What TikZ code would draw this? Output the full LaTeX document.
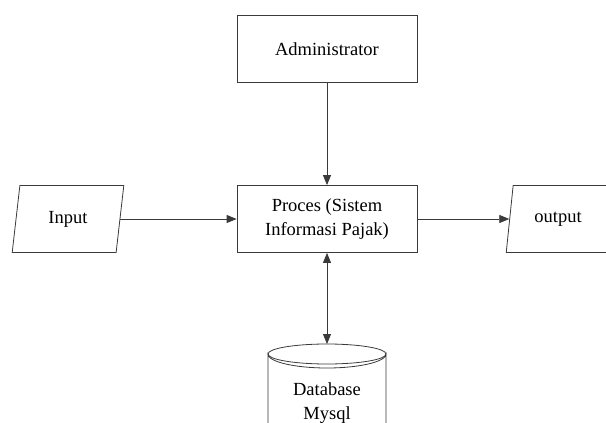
\documentclass[tikz,border=0pt]{standalone}
\usepackage{fontspec}
\setmainfont{Liberation Serif}
\usetikzlibrary{arrows.meta,shapes.geometric}
\definecolor{linec}{HTML}{3A3A3A}
\tikzset{
  box/.style={draw=linec, line width=0.8pt, minimum width=180pt, minimum height=67pt, align=center, inner sep=0pt},
  para/.style={draw=linec, line width=0.8pt, trapezium, trapezium left angle=79, trapezium right angle=101,
     trapezium stretches=true, minimum width=112pt, minimum height=67pt, inner sep=0pt},
  conn/.style={draw=linec, line width=0.8pt, -{Triangle[length=10pt,width=8pt]}},
  dconn/.style={draw=linec, line width=0.8pt, {Triangle[length=10pt,width=8pt]}-{Triangle[length=10pt,width=8pt]}},
  txt/.style={font=\fontsize{18.5}{24}\selectfont, align=center}
}
\begin{document}
\begin{tikzpicture}[x=1pt,y=-1pt]
\useasboundingbox[fill=white] (0,0) rectangle (606,423);
\node[box, txt] (admin) at (327,49) {Administrator};
\node[box, txt] (proc) at (327,219) {Proces (Sistem\\Informasi Pajak)};
\node[para, txt] (input) at (68,219) {Input};
\node[para, txt] (output) at (562,219) {\hspace*{-8pt}output};
% database cylinder
\draw[linec, line width=0.8pt] (268,440) -- (268,354) arc[start angle=180, end angle=0, x radius=59, y radius=14] -- (386,440);
\draw[linec, line width=0.8pt] (327,354) ellipse [x radius=59, y radius=10];
\coordinate (dbtop) at (327,344);
\node[txt] (db) at (327,403) {Database\\Mysql};
\draw[conn] (input.east |- proc.west) -- (proc.west);
\draw[conn] (admin) -- (proc);
\draw[conn] (proc.east) -- (proc.east -| output.west);
\draw[dconn] (proc.south) -- (dbtop);
\end{tikzpicture}
\end{document}
